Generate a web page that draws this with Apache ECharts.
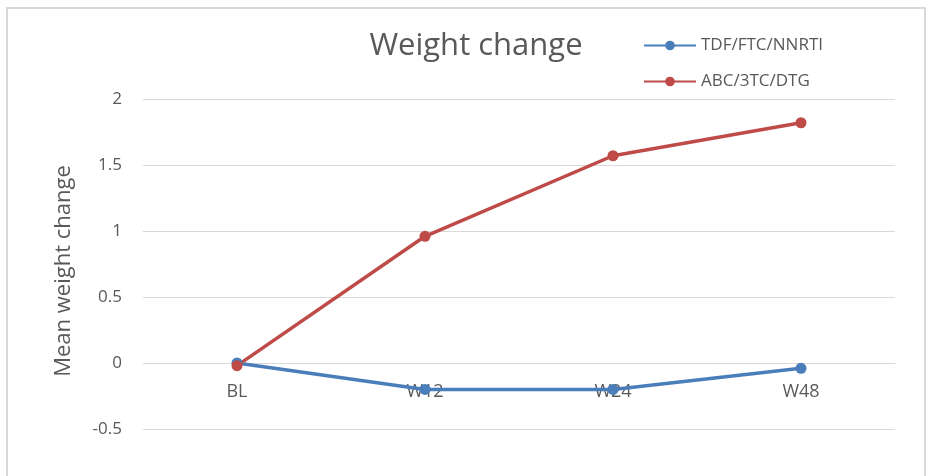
<!DOCTYPE html>
<html>
<head>
<meta charset="utf-8">
<script src="https://cdn.jsdelivr.net/npm/echarts@6/dist/echarts.min.js"></script>
<style>
  html, body { margin: 0; padding: 0; background: #ffffff; }
  #chart { width: 933px; height: 476px; }
</style>
</head>
<body>
<div id="chart"></div>
<script>
// Visit time points
const categories = ['BL', 'W12', 'W24', 'W48'];
// Mean weight change per regimen
const tdfFtcNnrti = [0, -0.2, -0.2, -0.04];
const abc3tcDtg = [-0.02, 0.96, 1.57, 1.82];
// Value axis range
const yMin = -1, yMax = 2, yStep = 0.5;

const textColor = '#595959';
const fontFamily = '"Open Sans", "Liberation Sans", sans-serif';

// Plot area: top edge at 99px, bottom edge (value -1) just below the visible canvas
const gridTop = 99, gridBottomY = 495;
const pxPerUnit = (gridBottomY - gridTop) / (yMax - yMin);
// The category axis sits on the zero line
const zeroOffset = -(0 - yMin) * pxPerUnit;

const chart = echarts.init(document.getElementById('chart'));
chart.setOption({
  animation: false,
  backgroundColor: '#ffffff',
  title: {
    text: 'Weight change',
    left: 471,
    top: 26,
    textAlign: 'center',
    textStyle: { color: textColor, fontSize: 31, fontWeight: 'normal', fontFamily }
  },
  legend: {
    orient: 'vertical',
    left: 638,
    top: 32,
    itemWidth: 52,
    itemHeight: 12,
    itemGap: 19,
    textStyle: { color: textColor, fontSize: 17, fontFamily },
    data: ['TDF/FTC/NNRTI', 'ABC/3TC/DTG']
  },
  graphic: [{
    type: 'rect',
    shape: { x: 7, y: 8, width: 918, height: 500 },
    style: { fill: 'none', stroke: '#d9d9d9', lineWidth: 2 },
    silent: true
  }],
  grid: { left: 143, right: 38, top: gridTop, bottom: 476 - gridBottomY, outerBoundsMode: 'none' },
  xAxis: {
    type: 'category',
    data: categories,
    boundaryGap: true,
    offset: zeroOffset,
    axisLine: { onZero: false, lineStyle: { color: '#d9d9d9', width: 1 } },
    axisTick: { show: false },
    axisLabel: { color: textColor, fontSize: 18, fontFamily, margin: 20 }
  },
  yAxis: {
    type: 'value',
    min: yMin,
    max: yMax,
    interval: yStep,
    name: 'Mean weight change',
    nameLocation: 'middle',
    nameGap: 68,
    nameTextStyle: { color: textColor, fontSize: 22, fontFamily, padding: [0, 0, 0, 52] },
    axisLine: { show: false },
    axisTick: { show: false },
    axisLabel: {
      color: textColor, fontSize: 17, fontFamily, margin: 21,
      formatter: v => (v === yMin ? '' : String(v))
    },
    splitLine: { lineStyle: { color: '#d9d9d9', width: 1 } }
  },
  series: [
    {
      name: 'TDF/FTC/NNRTI',
      type: 'line',
      data: tdfFtcNnrti,
      symbol: 'circle',
      symbolSize: 11,
      lineStyle: { color: '#4A7EBB', width: 3.5 },
      itemStyle: { color: '#4A7EBB' }
    },
    {
      name: 'ABC/3TC/DTG',
      type: 'line',
      data: abc3tcDtg,
      symbol: 'circle',
      symbolSize: 11,
      lineStyle: { color: '#BE4B48', width: 3.5 },
      itemStyle: { color: '#BE4B48' }
    }
  ]
});
</script>
</body>
</html>
